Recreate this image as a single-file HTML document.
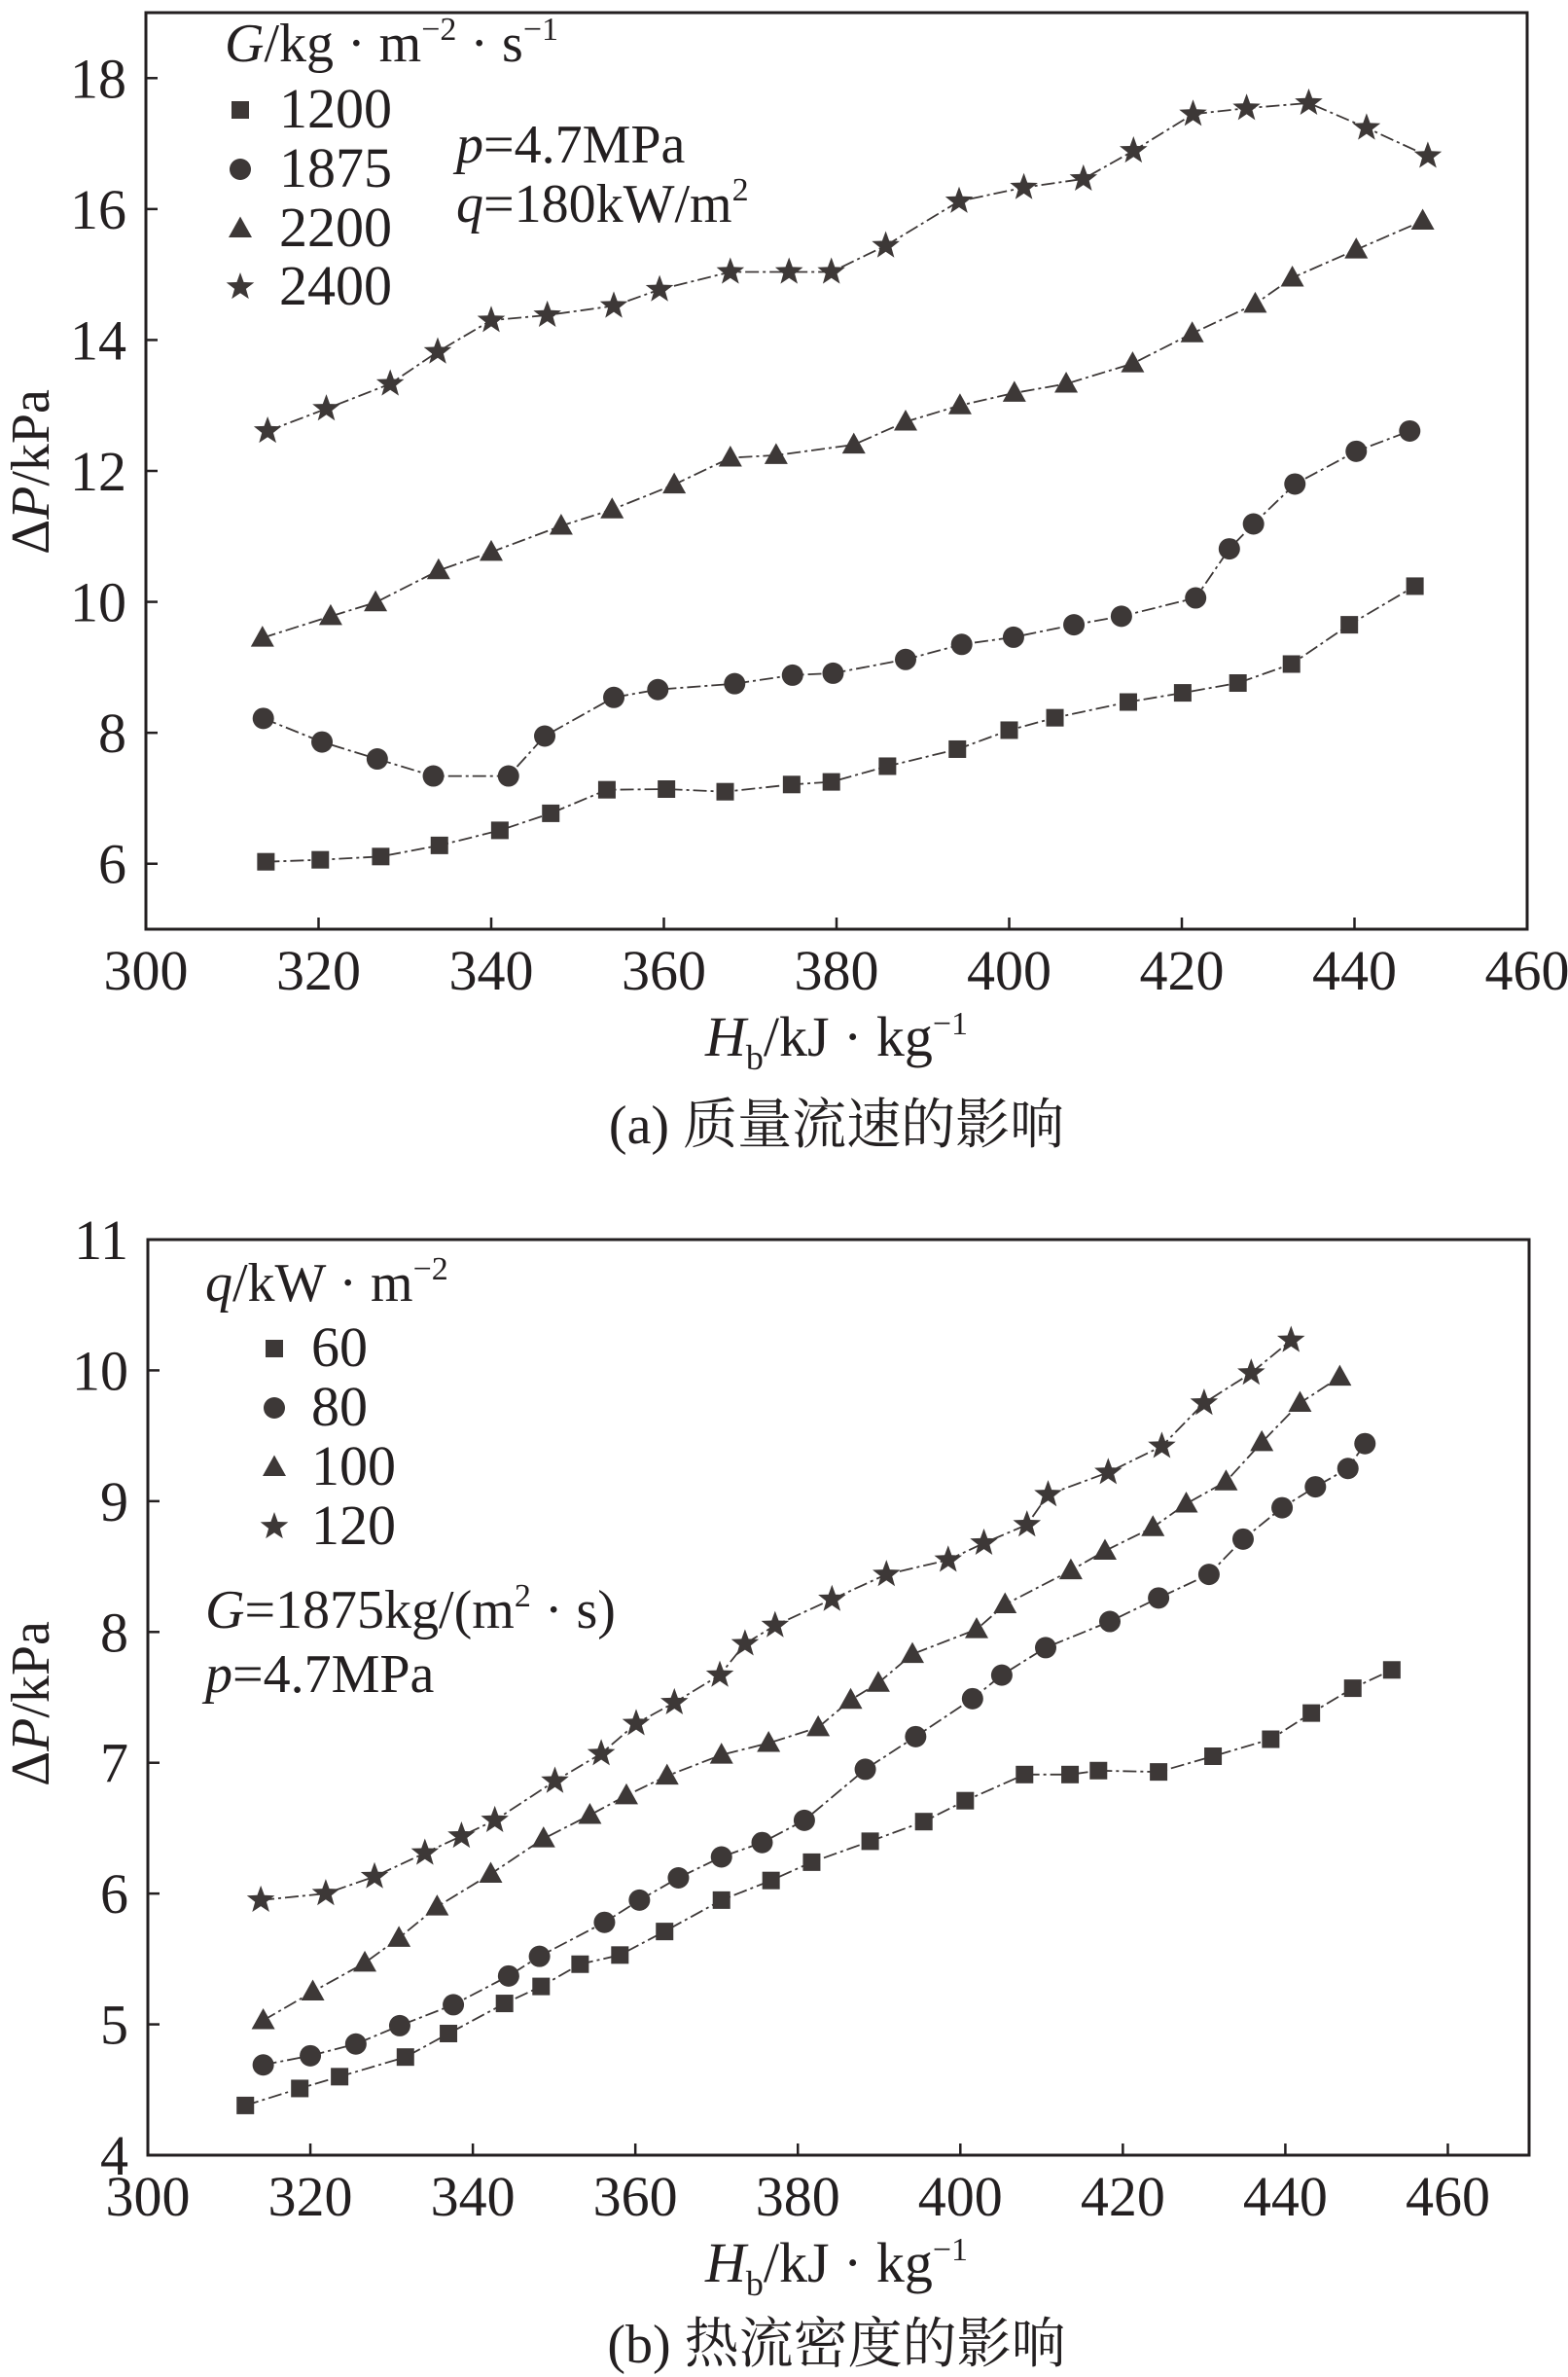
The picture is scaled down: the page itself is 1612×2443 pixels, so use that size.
<!DOCTYPE html>
<html><head><meta charset="utf-8"><style>
html,body{margin:0;padding:0;background:#fff}
svg{display:block}
text{font-family:"Liberation Serif","Noto Serif CJK SC",serif;fill:#231f20}
</style></head><body>
<svg id="fig" width="1612" height="2443" viewBox="0 0 1612 2443" xmlns="http://www.w3.org/2000/svg">
<g id="ca"></g>
<g id="cb"></g>
</svg>
<script>
// ---- Chart (a) data ----
const aX1200=[313.9,320.2,327.2,334,341,346.9,353.4,360.3,367.1,374.8,379.4,385.9,394,400,405.3,413.8,420.1,426.5,432.7,439.4,447];
const aY1200=[6.03,6.06,6.11,6.28,6.51,6.77,7.13,7.14,7.1,7.21,7.25,7.49,7.75,8.04,8.23,8.47,8.61,8.76,9.05,9.65,10.24];
const aX1875=[313.6,320.4,326.8,333.3,342,346.2,354.2,359.3,368.2,374.9,379.6,388,394.5,400.5,407.5,413,421.6,425.5,428.3,433.1,440.2,446.4];
const aY1875=[8.22,7.86,7.6,7.34,7.34,7.95,8.54,8.66,8.75,8.88,8.91,9.12,9.35,9.46,9.65,9.78,10.06,10.81,11.19,11.8,12.3,12.61];
const aX2200=[313.5,321.4,326.6,333.9,340,348.1,354,361.2,367.7,373,382,388,394.3,400.6,406.6,414.3,421.2,428.5,432.8,440.2,447.9];
const aY2200=[9.45,9.78,9.99,10.48,10.76,11.16,11.41,11.79,12.2,12.24,12.4,12.75,13.0,13.19,13.33,13.64,14.1,14.55,14.95,15.38,15.82];
const aX2400=[314.1,320.9,328.3,333.8,340,346.5,354.2,359.5,367.7,374.5,379.4,385.7,394.2,401.7,408.6,414.4,421.3,427.5,434.7,441.4,448.5];
const aY2400=[12.61,12.95,13.33,13.82,14.3,14.38,14.52,14.77,15.04,15.04,15.04,15.44,16.12,16.33,16.46,16.89,17.45,17.54,17.62,17.24,16.81];
const aXTicks=[300,320,340,360,380,400,420,440,460];
const aYTicks=[6,8,10,12,14,16,18];
// ---- Chart (b) data ----
const bX60=[312,318.7,323.6,331.7,337,343.9,348.4,353.2,358.1,363.6,370.6,376.7,381.7,388.9,395.5,400.6,407.9,413.5,417,424.4,431.1,438.2,443.2,448.3,453.1];
const bY60=[4.38,4.51,4.6,4.75,4.93,5.16,5.29,5.46,5.53,5.71,5.95,6.1,6.24,6.4,6.55,6.71,6.91,6.91,6.94,6.93,7.05,7.18,7.38,7.57,7.71];
const bX80=[314.2,320,325.6,331,337.6,344.4,348.2,356.2,360.5,365.3,370.6,375.6,380.8,388.3,394.5,401.5,405.1,410.5,418.4,424.4,430.6,434.8,439.6,443.7,447.7,449.8];
const bY80=[4.69,4.76,4.85,4.99,5.15,5.37,5.52,5.78,5.95,6.12,6.28,6.39,6.56,6.95,7.2,7.49,7.67,7.88,8.08,8.26,8.44,8.71,8.95,9.11,9.25,9.44];
const bX100=[314.2,320.3,326.7,330.9,335.6,342.2,348.7,354.4,358.9,363.9,370.6,376.4,382.5,386.5,389.9,394.1,402,405.5,413.6,417.8,423.7,427.8,432.7,437.1,441.8,446.7];
const bY100=[5.03,5.25,5.47,5.66,5.9,6.15,6.42,6.6,6.75,6.9,7.06,7.15,7.27,7.48,7.61,7.83,8.02,8.21,8.47,8.62,8.8,8.98,9.15,9.45,9.75,9.95];
const bX120=[313.9,321.9,327.9,334.1,338.6,342.7,350.1,355.8,360.1,364.8,370.4,373.5,377.2,384.2,390.9,398.5,402.9,408.2,410.8,418.2,424.8,430,435.8,440.7];
const bY120=[5.95,6.0,6.13,6.31,6.44,6.56,6.86,7.07,7.3,7.46,7.67,7.91,8.05,8.25,8.44,8.55,8.68,8.82,9.05,9.22,9.42,9.75,9.98,10.23];
const bXTicks=[300,320,340,360,380,400,420,440,460];
const bYTicks=[4,5,6,7,8,9,10,11];

const NS="http://www.w3.org/2000/svg";
const C="#3d3837";
function mk(p,tag,at,txt){const e=document.createElementNS(NS,tag);for(const k in at)e.setAttribute(k,at[k]);if(txt!==undefined)e.textContent=txt;p.appendChild(e);return e;}

function marker(g,type,x,y){
  let e;
  if(type==='sq'){e=mk(g,'rect',{x:x-9,y:y-9,width:18,height:18,fill:C});}
  else if(type==='ci'){e=mk(g,'circle',{cx:x,cy:y,r:11,fill:C});}
  else if(type==='tr'){e=mk(g,'polygon',{points:`${x},${y-12.5} ${x+12},${y+9} ${x-12},${y+9}`,fill:C});}
  else {let pts=[];for(let i=0;i<10;i++){const r=i%2?6.2:15;const a=-Math.PI/2+i*Math.PI/5;pts.push((x+r*Math.cos(a)).toFixed(1)+','+(y+r*Math.sin(a)).toFixed(1));}
    e=mk(g,'polygon',{points:pts.join(' '),fill:C});}
  return e;
}

function chart(root,cfg){
  const {L,R,T,B,x0,x1,y0,y1}=cfg;
  const sx=v=>L+(v-x0)/(x1-x0)*(R-L);
  const sy=v=>B-(v-y0)/(y1-y0)*(B-T);
  const frame=mk(root,'rect',{x:L,y:T,width:R-L,height:B-T,fill:'none',stroke:'#231f20','stroke-width':3});
  
  
  cfg.xt.forEach(v=>{
    if(v>x0&&v<x1){const t=mk(root,'line',{x1:sx(v),x2:sx(v),y1:B,y2:B-12,stroke:'#231f20','stroke-width':2.5});
    }
    const l=mk(root,'text',{x:sx(v),y:B+62,'font-size':58,'text-anchor':'middle'},String(v));
    
  });
  cfg.yt.forEach(v=>{
    if(v>y0&&v<y1){const t=mk(root,'line',{x1:L,x2:L+12,y1:sy(v),y2:sy(v),stroke:'#231f20','stroke-width':2.5});
    }
    const l=mk(root,'text',{x:L-20,y:sy(v)+20,'font-size':58,'text-anchor':'end'},String(v));
    
  });
  cfg.series.forEach(s=>{
    const g=mk(root,'g',{});
    
    
    const d=s.x.map((v,i)=>(i?'L':'M')+sx(v).toFixed(1)+' '+sy(s.y[i]).toFixed(1)).join(' ');
    const ln=mk(g,'path',{d:d,fill:'none',stroke:C,'stroke-width':1.8,'stroke-dasharray':'14 4 3 4'});
    
    s.x.forEach((v,i)=>{const m=marker(g,s.m,sx(v),sy(s.y[i]));
      });
  });
  return {sx,sy};
}

const ca=document.getElementById('ca');
chart(ca,{L:150,R:1570,T:13,B:955,x0:300,x1:460,y0:5,y1:19,xt:aXTicks,yt:aYTicks,series:[
 {name:'1200',m:'sq',x:aX1200,y:aY1200},{name:'1875',m:'ci',x:aX1875,y:aY1875},
 {name:'2200',m:'tr',x:aX2200,y:aY2200},{name:'2400',m:'st',x:aX2400,y:aY2400}]});
const cb=document.getElementById('cb');
chart(cb,{L:152,R:1572,T:1274,B:2215,x0:300,x1:470,y0:4,y1:11,xt:bXTicks,yt:bYTicks,series:[
 {name:'60',m:'sq',x:bX60,y:bY60},{name:'80',m:'ci',x:bX80,y:bY80},
 {name:'100',m:'tr',x:bX100,y:bY100},{name:'120',m:'st',x:bX120,y:bY120}]});

function legend(root,mx,tx,ys,labels,types){
  labels.forEach((lb,i)=>{
    const g=mk(root,'g',{});
    
    
    marker(g,types[i],mx,ys[i]-18);
    mk(g,'text',{x:tx,y:ys[i],'font-size':58},lb);
  });
}
legend(ca,247,287,[131,192,253,313],['1200','1875','2200','2400'],['sq','ci','tr','st']);
legend(cb,282,320,[1404,1465,1526,1587],['60','80','100','120'],['sq','ci','tr','st']);
</script>
<svg style="position:absolute;left:0;top:0" width="1612" height="2443">
<text x="231" y="63" font-size="56"><tspan font-style="italic">G</tspan>/kg · m<tspan font-size="34" dy="-22">−2</tspan><tspan dy="22"> · s</tspan><tspan font-size="34" dy="-22">−1</tspan></text>
<text x="469" y="167" font-size="56"><tspan font-style="italic">p</tspan>=4.7MPa</text>
<text x="469" y="228" font-size="56"><tspan font-style="italic">q</tspan>=180kW/m<tspan font-size="34" dy="-22">2</tspan></text>
<text transform="translate(50,485) rotate(-90)" font-size="56" text-anchor="middle">Δ<tspan font-style="italic">P</tspan>/kPa</text>
<text x="860" y="1085" font-size="58" text-anchor="middle"><tspan font-style="italic">H</tspan><tspan font-size="36" dy="14">b</tspan><tspan dy="-14">/kJ · kg</tspan><tspan font-size="34" dy="-22">−1</tspan></text>
<text x="860" y="1175" font-size="56" text-anchor="middle">(a) 质量流速的影响</text>

<text x="211" y="1337" font-size="56"><tspan font-style="italic">q</tspan>/kW · m<tspan font-size="34" dy="-22">−2</tspan></text>
<text x="211" y="1673" font-size="56"><tspan font-style="italic">G</tspan>=1875kg/(m<tspan font-size="34" dy="-22">2</tspan><tspan dy="22"> · s)</tspan></text>
<text x="211" y="1739" font-size="56"><tspan font-style="italic">p</tspan>=4.7MPa</text>
<text transform="translate(50,1751) rotate(-90)" font-size="56" text-anchor="middle">Δ<tspan font-style="italic">P</tspan>/kPa</text>
<text x="860" y="2345" font-size="58" text-anchor="middle"><tspan font-style="italic">H</tspan><tspan font-size="36" dy="14">b</tspan><tspan dy="-14">/kJ · kg</tspan><tspan font-size="34" dy="-22">−1</tspan></text>
<text x="860" y="2428" font-size="56" text-anchor="middle">(b) 热流密度的影响</text>
</svg>
</body></html>
